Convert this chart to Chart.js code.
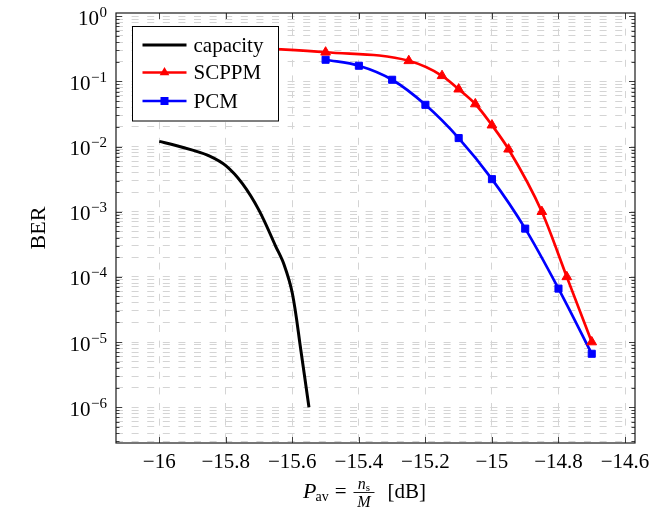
<!DOCTYPE html>
<html><head><meta charset="utf-8">
<script src="https://cdn.jsdelivr.net/npm/chart.js@4/dist/chart.umd.min.js"></script>
<style>html,body{margin:0;padding:0;background:#fff}</style>
</head><body>
<canvas id="c" width="670" height="515"></canvas>
<script>
// ---- data ----
const xCapacity   = [-16, -15.95, -15.9, -15.85, -15.8, -15.75, -15.7, -15.65, -15.625, -15.6, -15.575, -15.55];
const berCapacity = [1.2e-2, 1.04e-2, 8.8e-3, 7.2e-3, 5.1e-3, 2.7e-3, 1.05e-3, 2.95e-4, 1.55e-4, 5.6e-5, 7.9e-6, 1.0e-6];
const xSCPPM      = [-15.7, -15.5, -15.25, -15.15, -15.1, -15.05, -15.0, -14.95, -14.85, -14.775, -14.7];
const berSCPPM    = [0.325, 0.28, 0.207, 0.122, 0.076, 0.045, 0.0213, 0.0091, 1.0e-3, 1.0e-4, 1.0e-5];
const xPCM        = [-15.5, -15.4, -15.3, -15.2, -15.1, -15.0, -14.9, -14.8, -14.7];
const berPCM      = [0.215, 0.174, 0.106, 0.0437, 0.0135, 3.16e-3, 5.5e-4, 6.6e-5, 6.6e-6];
const seriesNames = ['capacity', 'SCPPM', 'PCM'];
const xTicks      = [-16, -15.8, -15.6, -15.4, -15.2, -15, -14.8, -14.6];
const xTickLabels = ['−16', '−15.8', '−15.6', '−15.4', '−15.2', '−15', '−14.8', '−14.6'];
const yDecades    = [0, -1, -2, -3, -4, -5, -6];
const yTickBase   = '10';
const yTickExps   = ['0', '−1', '−2', '−3', '−4', '−5', '−6'];
const yTitle = 'BER';

const SERIF = "'Liberation Serif', 'DejaVu Serif', serif";
const pts = (xs, ys) => xs.map((x, i) => ({x: x, y: ys[i]}));
const isDecade = v => { const l = Math.log10(v); return Math.abs(l - Math.round(l)) < 1e-6; };

const colors = ['#000000', '#ff0000', '#0000ff'];
const styles = [null, 'triangle', 'rect'];

const pgfPlugin = {
  id: 'pgf',
  afterDatasetsDraw(chart) {
    const ctx = chart.ctx, a = chart.chartArea;
    const xs = chart.scales.x, ys = chart.scales.y;
    ctx.save();
    // inside tick marks
    ctx.strokeStyle = '#404040'; ctx.lineWidth = 1;
    ctx.beginPath();
    xs.ticks.forEach(t => {
      const px = Math.round(xs.getPixelForValue(t.value)) + 0.5;
      ctx.moveTo(px, a.bottom); ctx.lineTo(px, a.bottom - 6);
      ctx.moveTo(px, a.top); ctx.lineTo(px, a.top + 6);
    });
    ys.ticks.forEach(t => {
      const py = Math.round(ys.getPixelForValue(t.value)) + 0.5;
      const L = isDecade(t.value) ? 6 : 3.5;
      ctx.moveTo(a.left, py); ctx.lineTo(a.left + L, py);
      ctx.moveTo(a.right, py); ctx.lineTo(a.right - L, py);
    });
    ctx.stroke();
    // frame
    ctx.strokeStyle = '#1a1a1a'; ctx.lineWidth = 1.2;
    ctx.strokeRect(a.left, a.top, a.right - a.left, a.bottom - a.top);
    // legend
    const lx = a.left + 16.5, ly = a.top + 13.5, lw = 146, lh = 94.5;
    ctx.fillStyle = '#fff'; ctx.fillRect(lx, ly, lw, lh);
    ctx.strokeStyle = '#000'; ctx.lineWidth = 1; ctx.strokeRect(lx, ly, lw, lh);
    const rows = [ly + 18.5, ly + 46, ly + 74.5];
    seriesNames.forEach((name, i) => {
      const y = rows[i];
      ctx.strokeStyle = colors[i]; ctx.lineWidth = i === 0 ? 3 : 2.7;
      ctx.beginPath(); ctx.moveTo(lx + 10, y); ctx.lineTo(lx + 54, y); ctx.stroke();
      const cx = lx + 32;
      ctx.fillStyle = colors[i];
      if (styles[i] === 'triangle') {
        const r = 5.6;
        ctx.beginPath();
        ctx.moveTo(cx, y - r);
        ctx.lineTo(cx + r * Math.sin(2 * Math.PI / 3), y + r / 2);
        ctx.lineTo(cx - r * Math.sin(2 * Math.PI / 3), y + r / 2);
        ctx.closePath(); ctx.fill();
      } else if (styles[i] === 'rect') {
        ctx.fillRect(cx - 4, y - 4, 8, 8);
      }
      ctx.fillStyle = '#000';
      ctx.font = '21px ' + SERIF;
      ctx.textBaseline = 'middle'; ctx.textAlign = 'left';
      ctx.fillText(name, lx + 61, y + 1);
    });
    ctx.restore();
  },
  afterDraw(chart) {
    const ctx = chart.ctx, a = chart.chartArea, ys = chart.scales.y;
    ctx.save();
    ctx.fillStyle = '#000';
    // y tick labels 10^k, placed from the log scale
    ctx.textAlign = 'right'; ctx.textBaseline = 'alphabetic';
    const xr = a.left - 9;
    yDecades.forEach((d, k) => {
      const py = ys.getPixelForValue(Math.pow(10, d));
      ctx.font = '15px ' + SERIF;
      const ew = ctx.measureText(yTickExps[k]).width;
      ctx.fillText(yTickExps[k], xr, py + 0.5);
      ctx.font = '21px ' + SERIF;
      ctx.fillText(yTickBase, xr - ew - 0.5, py + 8.5);
    });
    // y title
    ctx.save();
    ctx.translate(39, (a.top + a.bottom) / 2);
    ctx.rotate(-Math.PI / 2);
    ctx.font = '22px ' + SERIF; ctx.textAlign = 'center'; ctx.textBaseline = 'middle';
    ctx.fillText(yTitle, 0, 0);
    ctx.restore();
    // x title:  P_av = n_s / M  [dB]
    ctx.strokeStyle = '#000';
    ctx.textAlign = 'left'; ctx.textBaseline = 'alphabetic';
    let x = 303; const base = 498;
    ctx.font = 'italic 22px ' + SERIF; ctx.fillText('P', x, base); x += ctx.measureText('P').width - 1;
    ctx.font = '14px ' + SERIF; ctx.fillText('av', x, base + 3); x += ctx.measureText('av').width + 6;
    ctx.font = '21px ' + SERIF; ctx.fillText('=', x, base); x += ctx.measureText('=').width + 7;
    const fx = x, fw = 21;
    ctx.font = 'italic 16px ' + SERIF;
    const nw = ctx.measureText('n').width;
    ctx.font = '11px ' + SERIF; const sw = ctx.measureText('s').width;
    let nx = fx + (fw - nw - sw) / 2;
    ctx.font = 'italic 16px ' + SERIF; ctx.fillText('n', nx, base - 9);
    ctx.font = '11px ' + SERIF; ctx.fillText('s', nx + nw, base - 7);
    ctx.lineWidth = 0.9; ctx.beginPath(); ctx.moveTo(fx, base - 5.5); ctx.lineTo(fx + fw, base - 5.5); ctx.stroke();
    ctx.font = 'italic 16px ' + SERIF; const mw = ctx.measureText('M').width;
    ctx.fillText('M', fx + (fw - mw) / 2, base + 9);
    x = fx + fw + 13;
    ctx.font = '21px ' + SERIF; ctx.fillText('[dB]', x, base);
    ctx.restore();
  }
};

const gridCommon = { color: '#d4d4d4', lineWidth: 1, drawTicks: false };

new Chart(document.getElementById('c'), {
  type: 'line',
  data: {
    datasets: [
      { label: seriesNames[0], data: pts(xCapacity, berCapacity), borderColor: colors[0], borderWidth: 3,
        pointRadius: 0, tension: 0.35, fill: false },
      { label: seriesNames[1], data: pts(xSCPPM, berSCPPM), borderColor: colors[1], backgroundColor: colors[1], borderWidth: 2.7,
        pointStyle: 'triangle', pointRadius: 5.6, pointBorderWidth: 1, pointBackgroundColor: colors[1], pointBorderColor: colors[1],
        cubicInterpolationMode: 'monotone', fill: false },
      { label: seriesNames[2], data: pts(xPCM, berPCM), borderColor: colors[2], backgroundColor: colors[2], borderWidth: 2.7,
        pointStyle: 'rect', pointRadius: 5, pointBorderWidth: 1, pointBackgroundColor: colors[2], pointBorderColor: colors[2],
        cubicInterpolationMode: 'monotone', fill: false }
    ]
  },
  options: {
    responsive: false, animation: false, devicePixelRatio: 1,
    layout: { padding: { top: 13, right: 35, left: 0, bottom: 0 } },
    plugins: { legend: { display: false }, tooltip: { enabled: false } },
    scales: {
      x: {
        type: 'linear', min: -16.13, max: -14.57,
        afterBuildTicks: s => { s.ticks = xTicks.map(v => ({ value: v })); },
        afterFit: s => { s.height = 72; },
        grid: gridCommon,
        border: { display: false, dash: [7, 8.6] },
        ticks: { autoSkip: false, maxRotation: 0, padding: 7, color: '#000',
                 font: { family: SERIF, size: 21 },
                 callback: (v, i) => xTickLabels[xTicks.indexOf(v)] }
      },
      y: {
        type: 'logarithmic', min: Math.pow(10, -6.55), max: Math.pow(10, 0.05),
        afterBuildTicks: s => {
          const t = [];
          for (let d = -7; d <= 0; d++) for (let m = 1; m <= 9; m++) {
            const v = m * Math.pow(10, d);
            if (v >= s.min && v <= s.max) t.push({ value: v });
          }
          s.ticks = t;
        },
        afterFit: s => { s.width = 116; },
        grid: gridCommon,
        border: { display: false, dash: [7, 8.6] },
        ticks: { display: false, autoSkip: false }
      }
    }
  },
  plugins: [pgfPlugin]
});
</script>
</body></html>
